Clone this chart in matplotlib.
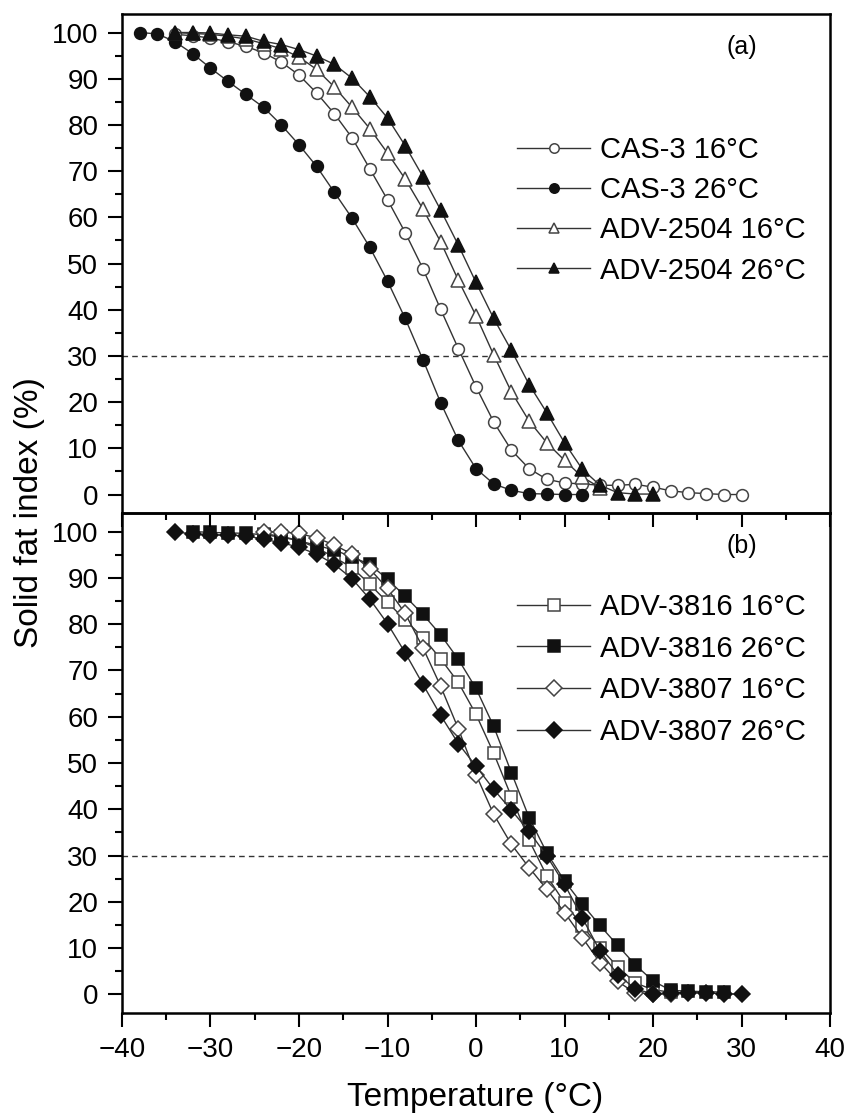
import numpy as np
import matplotlib as mpl
mpl.use("Agg")
import matplotlib.pyplot as plt
from matplotlib.ticker import MultipleLocator

plt.rcParams["font.family"] = ["Liberation Sans", "DejaVu Sans"]
plt.rcParams["axes.unicode_minus"] = True

# (a) CAS-3 and ADV-2504
t_cas16 = np.arange(-34, 31, 2)
sfi_cas16 = [99.6, 99.3, 98.8, 98.0, 97.0, 95.6, 93.6, 90.8, 86.9, 82.4, 77.2,
             70.5, 63.8, 56.7, 48.9, 40.1, 31.6, 23.3, 15.7, 9.6, 5.6, 3.3, 2.5,
             2.3, 2.0, 2.0, 2.2, 1.6, 0.8, 0.4, 0.2, 0.0, 0.0]
t_cas26 = np.arange(-38, 13, 2)
sfi_cas26 = [100, 99.7, 98.0, 95.4, 92.3, 89.4, 86.6, 83.8, 80.0, 75.7, 71.0,
             65.4, 59.8, 53.5, 46.2, 38.1, 29.2, 19.9, 11.7, 5.6, 2.3, 0.9, 0.2,
             0.1, 0.0, 0.0]
t_adv2504_16 = np.arange(-34, 15, 2)
sfi_adv2504_16 = [100, 99.8, 99.6, 99.2, 98.6, 97.6, 96.5, 94.7, 92.0, 88.2,
                  83.8, 79.2, 73.9, 68.3, 61.8, 54.7, 46.4, 38.7, 30.2, 22.2,
                  15.9, 11.2, 7.4, 3.8, 1.5]
t_adv2504_26 = np.arange(-34, 21, 2)
sfi_adv2504_26 = [100, 100, 99.9, 99.5, 99.2, 98.1, 97.4, 96.3, 94.9, 93.1,
                  90.1, 86.1, 81.5, 75.5, 68.8, 61.6, 54.0, 45.9, 38.1, 31.2,
                  23.8, 17.7, 11.2, 5.5, 2.0, 0.4, 0.1, 0.1]

# (b) ADV-3816 and ADV-3807
t_adv3816_16 = np.arange(-24, 23, 2)
sfi_adv3816_16 = [99.5, 99.0, 98.0, 96.5, 94.4, 92.2, 88.6, 84.7, 80.9, 77.1,
                  72.5, 67.4, 60.5, 52.1, 42.7, 33.3, 25.6, 19.8, 14.8, 10.1,
                  6.0, 2.5, 1.0, 0.5]
t_adv3816_26 = np.arange(-32, 29, 2)
sfi_adv3816_26 = [100, 99.8, 99.7, 99.6, 99.3, 98.8, 98.0, 97.0, 96.0, 94.5,
                  92.9, 89.7, 86.0, 82.1, 77.7, 72.4, 66.1, 57.9, 47.9, 38.2,
                  30.6, 24.5, 19.5, 14.9, 10.6, 6.4, 2.9, 0.9, 0.7, 0.6, 0.5]
t_adv3807_16 = np.arange(-24, 23, 2)
sfi_adv3807_16 = [100, 99.9, 99.6, 98.6, 97.1, 95.1, 91.9, 87.7, 82.3, 74.9,
                  66.6, 57.4, 47.5, 38.9, 32.4, 27.4, 22.7, 17.7, 12.3, 6.9,
                  2.8, 0.3, 0.2, 0.0]
t_adv3807_26 = np.arange(-34, 31, 2)
sfi_adv3807_26 = [100, 99.4, 99.3, 99.2, 99.1, 98.3, 97.6, 96.6, 95.1, 92.9,
                  89.8, 85.4, 80.1, 73.8, 67.0, 60.3, 54.2, 49.3, 44.3, 39.8,
                  35.2, 29.9, 23.8, 16.6, 9.4, 4.3, 1.2, 0.1, 0.4, 0.4, 0.3,
                  0.2, 0.0]

line_col = "#333333"
edge_open = "#444444"
fill_col = "#111111"

fig = plt.figure(figsize=(8.47, 11.14), dpi=100)
ax1 = fig.add_axes([0.144, 0.5395, 0.836, 0.4479])
ax2 = fig.add_axes([0.144, 0.0907, 0.836, 0.4488])
ax1.set_zorder(2)
ax1.patch.set_alpha(0)


def series(ax, t, y, marker, filled, label, ms):
    ax.plot(t, y, "-", color=line_col, lw=1.0, marker=marker, ms=ms,
            mfc=fill_col if filled else "white",
            mec=fill_col if filled else edge_open,
            mew=1.1, label=label)


series(ax1, t_cas16, sfi_cas16, "o", False, "CAS-3 16°C", 8.5)
series(ax1, t_cas26, sfi_cas26, "o", True, "CAS-3 26°C", 8.5)
series(ax1, t_adv2504_16, sfi_adv2504_16, "^", False, "ADV-2504 16°C", 9.5)
series(ax1, t_adv2504_26, sfi_adv2504_26, "^", True, "ADV-2504 26°C", 9.5)

series(ax2, t_adv3816_16, sfi_adv3816_16, "s", False, "ADV-3816 16°C", 8)
series(ax2, t_adv3816_26, sfi_adv3816_26, "s", True, "ADV-3816 26°C", 8)
series(ax2, t_adv3807_16, sfi_adv3807_16, "D", False, "ADV-3807 16°C", 8)
series(ax2, t_adv3807_26, sfi_adv3807_26, "D", True, "ADV-3807 26°C", 8)

for ax, tag in ((ax1, "(a)"), (ax2, "(b)")):
    ax.set_xlim(-40, 40)
    ax.set_ylim(-4, 104)
    ax.axhline(30, color=line_col, lw=1.0, ls=(0, (4, 3)), zorder=1)
    ax.xaxis.set_major_locator(MultipleLocator(10))
    ax.xaxis.set_minor_locator(MultipleLocator(5))
    ax.yaxis.set_major_locator(MultipleLocator(10))
    ax.yaxis.set_minor_locator(MultipleLocator(5))
    ax.tick_params(which="both", direction="out", width=1.5, labelsize=20,
                   top=False, right=False, pad=7)
    ax.tick_params(which="major", length=10)
    ax.tick_params(which="minor", length=5)
    for sp in ax.spines.values():
        sp.set_linewidth(1.8)
    ax.text(0.875, 0.934, tag, transform=ax.transAxes, fontsize=18,
            ha="center", va="center")

ax1.tick_params(labelbottom=False)

ax1.legend(loc="upper left", bbox_to_anchor=(0.558, 0.756), frameon=False,
           fontsize=21, handlelength=2.5, handletextpad=0.35,
           labelspacing=0.42, borderpad=0, borderaxespad=0, markerscale=0.8)
ax2.legend(loc="upper left", bbox_to_anchor=(0.558, 0.840), frameon=False,
           fontsize=21, handlelength=2.5, handletextpad=0.35,
           labelspacing=0.47, borderpad=0, borderaxespad=0)

fig.text(0.035, 0.54, "Solid fat index (%)", rotation=90, fontsize=24,
         ha="center", va="center")
fig.text(0.561, 0.015, "Temperature (°C)", fontsize=24, ha="center",
         va="center")

fig.savefig("out.png", dpi=100)
